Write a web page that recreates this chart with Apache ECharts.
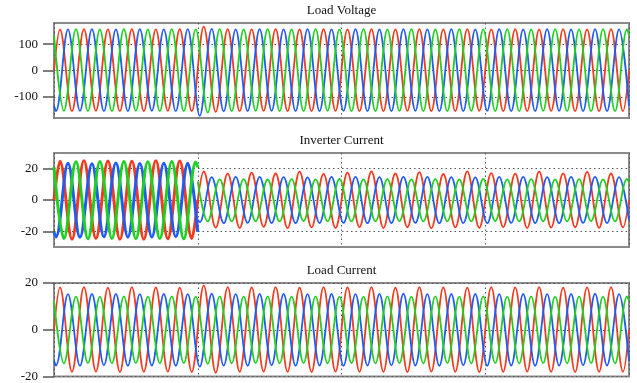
<!DOCTYPE html>
<html>
<head>
<meta charset="utf-8">
<script src="https://cdn.jsdelivr.net/npm/echarts@6/dist/echarts.min.js"></script>
<style>
  html, body { margin: 0; background: #fff; }
  #chart { width: 637px; height: 383px; }
</style>
</head>
<body>
<div id="chart"></div>
<script>
const titles = ['Load Voltage', 'Inverter Current', 'Load Current'];
const yTickValues = [[-100, 0, 100], [-20, 0, 20], [-20, 0, 20]];
const yRanges = [[-180, 180], [-30, 30], [-20, 20]];
const timeRangeMs = [0, 400];
const switchMs = 100;

// instants (ms) where one of the three phases reaches a peak or trough (every 60 deg at 60 Hz)
// index % 3: 0 -> phase b (blue), 1 -> phase a (red), 2 -> phase c (green)
const extremaMs = [
  1.39, 4.17, 6.94, 9.72, 12.50, 15.28, 18.06, 20.83, 23.61, 26.39, 29.17, 31.94, 34.72, 37.50, 40.28, 43.06, 45.83, 48.61,
  51.39, 54.17, 56.94, 59.72, 62.50, 65.28, 68.06, 70.83, 73.61, 76.39, 79.17, 81.94, 84.72, 87.50, 90.28, 93.06, 95.83, 98.61,
  101.39, 104.17, 106.94, 109.72, 112.50, 115.28, 118.06, 120.83, 123.61, 126.39, 129.17, 131.94, 134.72, 137.50, 140.28, 143.06, 145.83, 148.61,
  151.39, 154.17, 156.94, 159.72, 162.50, 165.28, 168.06, 170.83, 173.61, 176.39, 179.17, 181.94, 184.72, 187.50, 190.28, 193.06, 195.83, 198.61,
  201.39, 204.17, 206.94, 209.72, 212.50, 215.28, 218.06, 220.83, 223.61, 226.39, 229.17, 231.94, 234.72, 237.50, 240.28, 243.06, 245.83, 248.61,
  251.39, 254.17, 256.94, 259.72, 262.50, 265.28, 268.06, 270.83, 273.61, 276.39, 279.17, 281.94, 284.72, 287.50, 290.28, 293.06, 295.83, 298.61,
  301.39, 304.17, 306.94, 309.72, 312.50, 315.28, 318.06, 320.83, 323.61, 326.39, 329.17, 331.94, 334.72, 337.50, 340.28, 343.06, 345.83, 348.61,
  351.39, 354.17, 356.94, 359.72, 362.50, 365.28, 368.06, 370.83, 373.61, 376.39, 379.17, 381.94, 384.72, 387.50, 390.28, 393.06, 395.83, 398.61
];

// Load Voltage peaks / troughs
const voltA = [
  156, -154, 157, -153, 156, -154, 157, -154, 156, -153, 157, -154,
  166, -157, 157, -154, 156, -153, 157, -154, 156, -154, 157, -153,
  156, -154, 157, -154, 156, -153, 157, -154, 156, -154, 157, -153,
  156, -154, 157, -154, 156, -153, 157, -154, 156, -154, 157, -154
];
const voltB = [
  -154, 156, -153, 157, -154, 156, -154, 157, -153, 156, -154, 157,
  -172, 158, -155, 156, -154, 157, -153, 156, -154, 157, -154, 156,
  -153, 157, -154, 156, -154, 157, -153, 156, -154, 157, -154, 156,
  -153, 157, -154, 156, -154, 157, -153, 156, -154, 157, -154, 156
];
const voltC = [
  -153, 157, -154, 156, -154, 157, -153, 156, -154, 157, -154, 156,
  -160, 157, -154, 156, -153, 157, -154, 156, -154, 157, -153, 156,
  -154, 157, -154, 156, -153, 157, -154, 156, -154, 157, -153, 156,
  -154, 157, -154, 156, -153, 157, -154, 156, -154, 157, -154, 157
];
const voltStart = [0, -134, 134];
const voltEnd = [0, -134, 134];

// Inverter Current peaks / troughs (first 12 before the switch at 100 ms)
const invA = [
  24.8, -25, 25, -24.6, 24.9, -25.1, 24.7, -25, 25, -24.8, 24.9, -24.5,
  18.2, -17.6, 16.8, -17.9, 17.4, -17.2, 16.9, -18, 18.1, -17.5, 16.7, -17.8,
  17.5, -17.3, 18.2, -17.9, 16.9, -17.4, 17.8, -18, 16.6, -17.5, 18.3, -17.8,
  17.2, -17.3, 16.8, -17.9, 18.1, -17.6, 17, -17.4, 18, -17.8, 16.9, -17.5
];
const invB = [
  -23.6, 23.4, -23.8, 23.2, -23.5, 23.6, -23.7, 23.3, -23.6, 23.5, -23.4, 23.4,
  -14.2, 14.6, -14.8, 14.7, -14.6, 14.8, -14.7, 14.6, -14.8, 14.5, -14.7, 14.8,
  -14.6, 14.7, -14.8, 14.6, -14.7, 14.8, -14.6, 14.7, -14.8, 14.6, -14.7, 14.5,
  -14.8, 14.7, -14.6, 14.8, -14.7, 14.6, -14.8, 14.7, -14.6, 14.8, -14.7, 14.6
];
const invC = [
  -24.6, 24.4, -24.8, 24.5, -24.5, 24.6, -24.7, 24.4, -24.6, 24.5, -24.8, 24.2,
  -13.6, 13.2, -13.7, 13.3, -13.6, 13.1, -13.7, 13.3, -13.5, 13.2, -13.7, 13.4,
  -13.6, 13.2, -13.7, 13.3, -13.5, 13.2, -13.7, 13.3, -13.6, 13.2, -13.7, 13.4,
  -13.5, 13.2, -13.7, 13.3, -13.6, 13.2, -13.7, 13.3, -13.5, 13.2, -13.7, 13.4
];
const invStart = [0, -20.6, 21];
const invBeforeSwitch = [0, -20.4, 20.8];
const invAfterSwitch = [0, -12.6, 11.8];
const invEnd = [0, -12.7, 11.6];

// Load Current peaks / troughs
const loadA = [
  18.1, -18, 18.2, -17.9, 18, -18.1, 18.2, -18, 18.1, -17.9, 18, -18.1,
  19, -18.4, 18.2, -18, 18.1, -17.9, 18.2, -18, 18, -18.1, 18.2, -17.9,
  18.1, -18, 18.2, -18, 18, -18.1, 18.2, -17.9, 18.1, -18, 18, -18.1,
  18.2, -18, 18.1, -17.9, 18.2, -18, 18, -18.1, 18.1, -18, 18.2, -18
];
const loadB = [
  -15.3, 15.2, -15.4, 15.3, -15.2, 15.3, -15.4, 15.2, -15.3, 15.3, -15.4, 15.2,
  -15.8, 15.4, -15.3, 15.2, -15.4, 15.3, -15.2, 15.3, -15.4, 15.2, -15.3, 15.3,
  -15.4, 15.2, -15.3, 15.3, -15.2, 15.4, -15.3, 15.2, -15.4, 15.3, -15.2, 15.3,
  -15.4, 15.2, -15.3, 15.3, -15.4, 15.2, -15.3, 15.3, -15.2, 15.4, -15.3, 15.2
];
const loadC = [
  -14.4, 14.2, -14.3, 14.2, -14.4, 14.3, -14.3, 14.2, -14.4, 14.3, -14.3, 14.2,
  -14.6, 14.3, -14.4, 14.2, -14.3, 14.3, -14.4, 14.2, -14.3, 14.3, -14.4, 14.2,
  -14.3, 14.2, -14.4, 14.3, -14.3, 14.2, -14.4, 14.3, -14.3, 14.2, -14.4, 14.3,
  -14.3, 14.2, -14.4, 14.3, -14.3, 14.2, -14.4, 14.3, -14.3, 14.2, -14.4, 14.3
];
const loadStart = [0, -13.3, 12.4];
const loadEnd = [0, -13.3, 12.4];

const phaseColors = ['#f4391c', '#1f5cf2', '#20d020'];
const phaseOffset = [1, 0, 2];
const serif = 'Liberation Serif, Times New Roman, serif';

const gridTops = [23, 153, 283];
const gridHeights = [95, 94, 94];

function phaseTimes(p) {
  return extremaMs.filter((t, i) => i % 3 === phaseOffset[p]);
}

function pairs(times, values) {
  return times.map((t, i) => [t, values[i]]);
}

function lineSeries(panel, p, data, width) {
  return {
    type: 'line',
    xAxisIndex: panel,
    yAxisIndex: panel,
    data: data,
    smooth: 0.36,
    showSymbol: false,
    silent: true,
    lineStyle: { color: phaseColors[p], width: width },
    z: 2 + p
  };
}

const series = [];
const volt = [voltA, voltB, voltC];
const inv = [invA, invB, invC];
const load = [loadA, loadB, loadC];

[0, 1, 2].forEach(p => {
  const times = phaseTimes(p);
  series.push(lineSeries(0, p, [[timeRangeMs[0], voltStart[p]], ...pairs(times, volt[p]), [timeRangeMs[1], voltEnd[p]]], 1.8));

  const pre = times.filter(t => t < switchMs);
  const post = times.filter(t => t > switchMs);
  series.push(lineSeries(1, p, [[timeRangeMs[0], invStart[p]], ...pairs(pre, inv[p].slice(0, pre.length)), [switchMs, invBeforeSwitch[p]]], 3));
  series.push(lineSeries(1, p, [[switchMs, invAfterSwitch[p]], ...pairs(post, inv[p].slice(pre.length)), [timeRangeMs[1], invEnd[p]]], 1.8));

  series.push(lineSeries(2, p, [[timeRangeMs[0], loadStart[p]], ...pairs(times, load[p]), [timeRangeMs[1], loadEnd[p]]], 1.8));
});

const dotted = { color: '#555', width: 1, type: [1.5, 3] };

const chart = echarts.init(document.getElementById('chart'));
chart.setOption({
  animation: false,
  backgroundColor: '#fff',
  title: titles.map((t, i) => ({
    text: t,
    left: 341.5,
    top: gridTops[i] - 19,
    textAlign: 'center',
    padding: 0,
    textStyle: { fontFamily: serif, fontSize: 13, fontWeight: 'normal', color: '#111' }
  })),
  grid: gridTops.map((top, i) => ({
    left: 54,
    top: top,
    width: 575,
    height: gridHeights[i],
    show: true,
    borderColor: '#8a8a8a',
    borderWidth: 2,
    backgroundColor: 'transparent'
  })),
  xAxis: gridTops.map((_, i) => ({
    type: 'value',
    gridIndex: i,
    min: timeRangeMs[0],
    max: timeRangeMs[1],
    interval: 100,
    axisLine: { show: false },
    axisTick: { show: false },
    axisLabel: { show: false },
    splitLine: { show: true, lineStyle: dotted }
  })),
  yAxis: gridTops.map((_, i) => ({
    type: 'value',
    gridIndex: i,
    min: yRanges[i][0],
    max: yRanges[i][1],
    axisLine: { show: false },
    axisTick: { show: true, length: 11, customValues: yTickValues[i], lineStyle: { color: '#555', width: 1.5 } },
    axisLabel: { customValues: yTickValues[i], margin: 16, fontFamily: serif, fontSize: 13, color: '#111' },
    splitLine: { show: true, lineStyle: dotted }
  })),
  series: series
});
</script>
</body>
</html>
